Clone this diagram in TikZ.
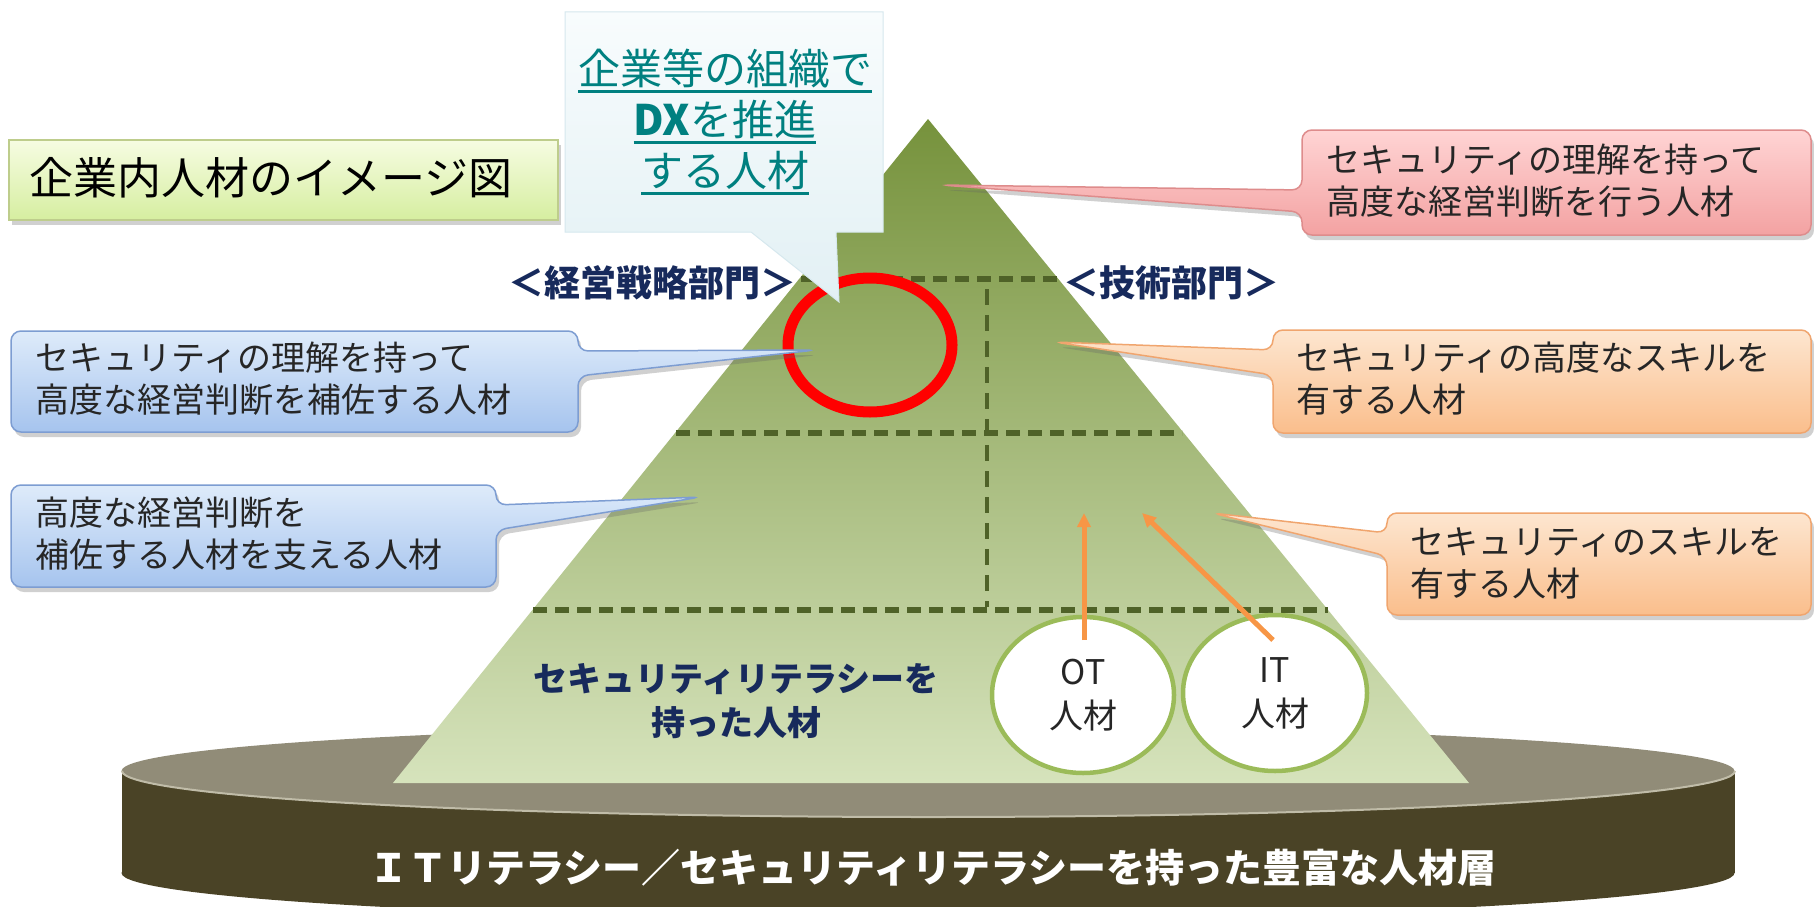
\documentclass[tikz,border=0pt]{standalone}
\usepackage{fontspec}
\setmainfont{Noto Sans CJK JP}
\usetikzlibrary{shapes.geometric,arrows.meta,shadows}
\definecolor{pyrTop}{RGB}{118,146,60}
\definecolor{pyrBot}{RGB}{214,227,188}
\definecolor{dashC}{RGB}{79,98,40}
\definecolor{navy}{RGB}{23,42,92}
\definecolor{txtc}{RGB}{38,38,38}
\definecolor{tealC}{RGB}{0,128,128}
\definecolor{blueT}{RGB}{222,235,250}
\definecolor{blueBo}{RGB}{166,196,238}
\definecolor{blueLine}{RGB}{125,157,210}
\definecolor{pinkT}{RGB}{255,212,212}
\definecolor{pinkBo}{RGB}{243,162,162}
\definecolor{pinkLine}{RGB}{222,140,140}
\definecolor{orT}{RGB}{253,230,208}
\definecolor{orBo}{RGB}{250,190,140}
\definecolor{orLine}{RGB}{240,165,110}
\definecolor{tiT}{RGB}{246,252,226}
\definecolor{tiBo}{RGB}{214,238,160}
\definecolor{tiLine}{RGB}{190,205,140}
\definecolor{dxT}{RGB}{248,252,253}
\definecolor{dxBo}{RGB}{226,240,244}
\definecolor{dxLine}{RGB}{214,232,238}
\definecolor{circG}{RGB}{155,187,89}
\definecolor{arrC}{RGB}{247,150,70}
\definecolor{discTop}{RGB}{145,140,120}
\definecolor{discSide}{RGB}{74,67,38}
\definecolor{discEdge}{RGB}{192,188,168}
\newsavebox\myulbox
\newcommand\myul[1]{\sbox\myulbox{#1}\rlap{\raisebox{-8pt}{\rule{\wd\myulbox}{2.5pt}}}\usebox\myulbox}
\begin{document}
\begin{tikzpicture}[x=1pt,y=-1pt,
  txt/.style={font=\fontsize{34}{42}\selectfont, text=txtc, align=left, anchor=west, inner sep=0pt},
  callbox/.style={rounded corners=10pt, line width=1.5pt,
    drop shadow={shadow xshift=3pt,shadow yshift=-5pt,opacity=0.3,fill=black!60}},
  bluebox/.style={callbox, draw=blueLine, top color=blueT, bottom color=blueBo},
  pinkbox/.style={callbox, draw=pinkLine, top color=pinkT, bottom color=pinkBo},
  orbox/.style={callbox, draw=orLine, top color=orT, bottom color=orBo},
  dline/.style={draw=dashC, line width=6pt, dash pattern=on 14pt off 8pt},
  vline/.style={draw=dashC, line width=4.5pt, dash pattern=on 16pt off 10pt},
  dept/.style={font=\bfseries\fontsize{36}{36}\selectfont, text=navy, inner sep=0pt},
  person/.style={ellipse, draw=circG, line width=4.5pt, fill=white, inner sep=0pt,
    align=center, font=\fontsize{34}{44}\selectfont, text=txtc},
  arr/.style={draw=arrC, line width=5pt, -{Triangle[length=14pt,width=13pt]}}
]
\useasboundingbox (0,0) rectangle (1814,907);
\fill[white] (0,0) rectangle (1814,907);

% base disc
\fill[discSide] (928,873) ellipse [x radius=806.5, y radius=46];
\fill[discSide] (122,771) rectangle (1735,873);
\fill[discTop] (928,771) ellipse [x radius=806.5, y radius=46];
\draw[discEdge, line width=2pt] (122,771) arc [start angle=180, end angle=0, x radius=806.5, y radius=46];
\node[font=\bfseries\fontsize{39}{39}\selectfont, text=white, inner sep=0pt] (base) at (933,868)
  {ＩＴリテラシー／セキュリティリテラシーを持った豊富な人材層};

% pyramid
\shade[top color=pyrTop, bottom color=pyrBot] (928,119) -- (1469,783) -- (393,783) -- cycle;

% dashed division lines
\draw[dline] (801,279) -- (1057,279);
\draw[dline] (676,433) -- (1182,433);
\draw[dline] (533,610) -- (1328,610);
\draw[vline] (987,289) -- (987,607);

% department labels
\node[dept, anchor=east] (mgmt) at (797,283) {＜経営戦略部門＞};
\node[dept, anchor=west] (tech) at (1063,283) {＜技術部門＞};

% literacy label
\node[font=\bfseries\fontsize{34}{44}\selectfont, text=navy, align=center, inner sep=0pt] (lit) at (736,701)
  {セキュリティリテラシーを\\持った人材};

% OT / IT circles
\node[person, minimum width=182pt, minimum height=156pt] (ot) at (1083,695) {OT\\人材};
\node[person, minimum width=184pt, minimum height=156pt] (it) at (1275,693) {IT\\人材};
\coordinate (otS) at (1084,640);
\coordinate (otE) at (1084,513);
\coordinate (itS) at (1273,640);
\coordinate (itE) at (1142,513);
\draw[arr] (otS) -- (otE);
\draw[arr] (itS) -- (itE);

% red ring
\node[ellipse, draw=red, line width=11pt, minimum width=164pt, minimum height=134pt, inner sep=0pt] (ring) at (870,345) {};

% title box
\path[draw=tiLine, line width=1.5pt, top color=tiT, bottom color=tiBo,
  drop shadow={shadow xshift=3pt,shadow yshift=-5pt,opacity=0.3,fill=black!60}] (9,140) rectangle (558,220);
\node[anchor=west, inner sep=0pt, font=\fontsize{44}{44}\selectfont, text=black] (title) at (29,178) {企業内人材のイメージ図};

% pink callout
\coordinate (pinkTip) at (941,185);
\path[pinkbox] (1302,190) -- (pinkTip) -- (1302,212) -- (1302,235) -- (1811,235) -- (1811,130) -- (1302,130) -- cycle;
\node[txt] (pinkText) at (1326,181) {セキュリティの理解を持って\\高度な経営判断を行う人材};

% orange callout 1
\coordinate (or1Tip) at (1054,342);
\path[orbox] (1273,350) -- (or1Tip) -- (1273,375) -- (1273,433) -- (1811,433) -- (1811,330) -- (1273,330) -- cycle;
\node[txt] (or1Text) at (1296,379) {セキュリティの高度なスキルを\\有する人材};

% orange callout 2
\coordinate (or2Tip) at (1212,513);
\path[orbox] (1387,533) -- (or2Tip) -- (1387,556) -- (1387,615) -- (1811,615) -- (1811,513) -- (1387,513) -- cycle;
\node[txt] (or2Text) at (1410,563) {セキュリティのスキルを\\有する人材};

% blue callout 1
\coordinate (bl1Tip) at (816,350);
\path[bluebox] (578,351) -- (bl1Tip) -- (578,376) -- (578,432) -- (11,432) -- (11,331) -- (578,331) -- cycle;
\node[txt] (bl1Text) at (35,379) {セキュリティの理解を持って\\高度な経営判断を補佐する人材};

% blue callout 2
\coordinate (bl2Tip) at (701,497);
\path[bluebox] (496,505) -- (bl2Tip) -- (496,530) -- (496,587) -- (11,587) -- (11,485) -- (496,485) -- cycle;
\node[txt] (bl2Text) at (35,534) {高度な経営判断を\\補佐する人材を支える人材};

% DX callout
\coordinate (dxTip) at (839,302);
\path[draw=dxLine, line width=1pt, top color=dxT, bottom color=dxBo]
  (565,12) -- (883,12) -- (883,232) -- (836,232) -- (dxTip) -- (751,232) -- (565,232) -- cycle;
\node[align=center, text=tealC, inner sep=0pt, font=\fontsize{42}{51}\selectfont] (dx) at (725,122)
  {\myul{企業等の組織で}\\\myul{{\bfseries DX}を推進}\\\myul{する人材}};
\end{tikzpicture}
\end{document}
